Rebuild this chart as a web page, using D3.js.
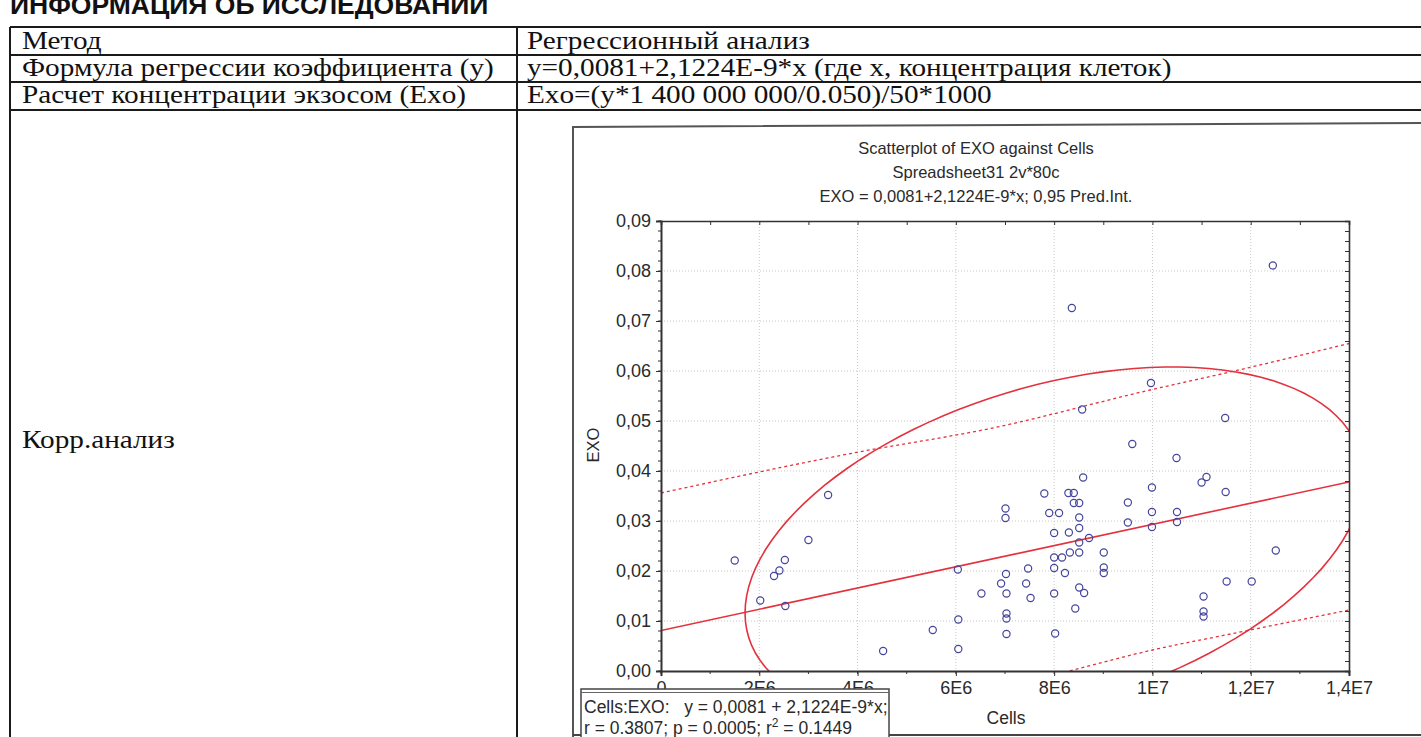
<!DOCTYPE html>
<html>
<head>
<meta charset="utf-8">
<script src="https://cdn.jsdelivr.net/npm/d3@7"></script>
<style>
  body { margin: 0; background: #fff; }
  svg { display: block; }
  text { white-space: pre; }
</style>
</head>
<body>
<div class="forSvg"></div>
<script>
// define w & h of svg
const svg_w = 1421;
const svg_h = 737;

// table texts
const tableTitle = "ИНФОРМАЦИЯ ОБ ИССЛЕДОВАНИИ";
const rowLabels = ["Метод", "Формула регрессии коэффициента (у)", "Расчет концентрации экзосом (Exo)", "Корр.анализ"];
const rowValues = ["Регрессионный анализ", "y=0,0081+2,1224E-9*x (где x, концентрация клеток)", "Exo=(y*1 400 000 000/0.050)/50*1000", ""];

// chart texts
const chartTitles = ["Scatterplot of EXO against Cells", "Spreadsheet31 2v*80c", "EXO = 0,0081+2,1224E-9*x; 0,95 Pred.Int."];
const statLine1 = "Cells:EXO:   y = 0,0081 + 2,1224E-9*x;";
const statLine2 = ["r = 0.3807; p = 0.0005; r", "2", " = 0.1449"];

// tick values and labels
const xTicks = [0, 2e6, 4e6, 6e6, 8e6, 1e7, 1.2e7, 1.4e7];
const xTickLabels = ["0", "2E6", "4E6", "6E6", "8E6", "1E7", "1,2E7", "1,4E7"];
const yTicks = [0, 0.01, 0.02, 0.03, 0.04, 0.05, 0.06, 0.07, 0.08, 0.09];
const yTickLabels = ["0,00", "0,01", "0,02", "0,03", "0,04", "0,05", "0,06", "0,07", "0,08", "0,09"];

// scatter points (Cells, EXO)
const cells = [1.50e6, 3.40e6, 3.00e6, 2.52e6, 2.41e6, 2.30e6, 2.02e6, 2.53e6, 4.52e6, 5.53e6,
  6.04e6, 6.05e6, 6.05e6, 6.52e6,
  8.59e6, 7.80e6, 8.29e6, 8.40e6, 8.40e6, 8.51e6, 7.01e6, 7.01e6, 7.90e6, 8.10e6,
  9.50e6, 9.99e6, 9.99e6, 9.50e6, 9.99e6, 8.51e6, 8.00e6, 8.30e6, 8.51e6, 8.71e6,
  8.51e6, 8.32e6, 8.51e6, 9.01e6, 8.00e6, 8.16e6, 7.47e6, 8.00e6, 9.01e6, 9.01e6,
  7.02e6, 8.22e6, 6.92e6, 7.43e6, 7.03e6, 7.52e6, 8.00e6, 8.51e6, 8.61e6, 8.43e6,
  7.03e6, 7.03e6, 7.03e6, 8.02e6,
  9.59e6, 10.49e6, 11.00e6, 11.10e6, 11.49e6, 10.50e6, 10.50e6, 12.51e6, 11.51e6, 12.02e6,
  11.04e6, 11.04e6, 11.04e6,
  12.45e6, 8.36e6, 9.97e6, 8.57e6, 11.48e6];
const exo = [0.0221, 0.0352, 0.0262, 0.0222, 0.0201, 0.0190, 0.0141, 0.0130, 0.0040, 0.0082,
  0.0203, 0.0103, 0.0044, 0.0155,
  0.0387, 0.0355, 0.0356, 0.0356, 0.0336, 0.0336, 0.0325, 0.0306, 0.0316, 0.0316,
  0.0337, 0.0367, 0.0318, 0.0297, 0.0288, 0.0307, 0.0276, 0.0277, 0.0286, 0.0266,
  0.0257, 0.0237, 0.0237, 0.0237, 0.0227, 0.0227, 0.0205, 0.0206, 0.0207, 0.0196,
  0.0194, 0.0196, 0.0175, 0.0175, 0.0155, 0.0146, 0.0155, 0.0167, 0.0156, 0.0125,
  0.0115, 0.0105, 0.0074, 0.0075,
  0.0454, 0.0426, 0.0377, 0.0388, 0.0358, 0.0318, 0.0298, 0.0241, 0.0179, 0.0179,
  0.0149, 0.0119, 0.0109,
  0.0811, 0.0726, 0.0576, 0.0523, 0.0506];

// regression line (from the chart title)
const regIntercept = 0.0081;
const regSlope = 2.1224e-9;

// prediction interval lines
const piUpperX = [0, 4.02e6, 6.7e6, 9.95e6, 11.58e6, 14e6];
const piUpperY = [0.0356, 0.0438, 0.0485, 0.0562, 0.0598, 0.0655];
const piLowerX = [8.2e6, 10e6, 11.64e6, 14e6];
const piLowerY = [-0.0003, 0.0042, 0.0075, 0.0122];

// confidence ellipse: centre and two conjugate half-diameters (data units)
const ellCenter = [8.0e6, 0.0252];
const ellU = [-6.29e6, -0.0136];
const ellV = [0, 0.0329];

// plot area
const plotL = 661, plotR = 1349, plotT = 221, plotB = 671;
const red = "#e3323e";
const txt = "#2a2a2a";
const sans = "'Liberation Sans', Arial, sans-serif";
const serif = "'Liberation Serif', 'Times New Roman', serif";

const svg = d3.select(".forSvg")
  .append("svg")
  .attr("width", svg_w)
  .attr("height", svg_h)
  .style("font-family", sans);

// ---------- table ----------
svg.append("text")
  .attr("x", 10).attr("y", 14)
  .attr("font-weight", "bold")
  .attr("font-size", 26.5)
  .attr("fill", "#111")
  .text(tableTitle);

const rowTops = [27, 55, 82, 110];
const colX = [10, 517];
const tbl = svg.append("g").attr("stroke", "#1a1a1a").attr("stroke-width", 2);
rowTops.forEach(y => tbl.append("line").attr("x1", colX[0]).attr("x2", svg_w).attr("y1", y).attr("y2", y));
colX.forEach(x => tbl.append("line").attr("x1", x).attr("x2", x).attr("y1", 27).attr("y2", svg_h));

// scanned text is a bit wide, so stretch it sideways
const rowTextY = [48.5, 75.5, 103, 448];
const cellText = (x, y, t) => svg.append("text")
  .attr("transform", `translate(${x},${y}) scale(1.17,1)`)
  .attr("font-family", serif).attr("font-size", 25).attr("fill", "#111").text(t);
rowLabels.forEach((t, i) => cellText(22, rowTextY[i], t));
rowValues.forEach((t, i) => { if (t) cellText(527, rowTextY[i], t); });

// chart frame
svg.append("path")
  .attr("d", `M573,${svg_h} L573,127 L${svg_w},123`)
  .attr("fill", "none").attr("stroke", "#555").attr("stroke-width", 2);
svg.append("line").attr("x1", 573).attr("x2", svg_w).attr("y1", 735).attr("y2", 735)
  .attr("stroke", "#444").attr("stroke-width", 2);

// ---------- chart ----------
const xScale = d3.scaleLinear().domain([0, 1.4e7]).range([plotL, plotR]);
const yScale = d3.scaleLinear().domain([0, 0.09]).range([plotB, plotT]);

// titles
chartTitles.forEach((t, i) => {
  svg.append("text").attr("x", 976).attr("y", 154 + i * 24)
    .attr("text-anchor", "middle").attr("font-size", 16.5).attr("fill", txt).text(t);
});

// grid
const grid = svg.append("g").attr("stroke", "#c8c8c8").attr("stroke-width", 1).attr("stroke-dasharray", "1,2");
grid.selectAll(".gx").data(xTicks.slice(1, -1)).enter().append("line")
  .attr("x1", d => xScale(d)).attr("x2", d => xScale(d)).attr("y1", plotT).attr("y2", plotB);
grid.selectAll(".gy").data(yTicks.slice(1, -1)).enter().append("line")
  .attr("y1", d => yScale(d)).attr("y2", d => yScale(d)).attr("x1", plotL).attr("x2", plotR);

// clip
svg.append("clipPath").attr("id", "plotClip").append("rect")
  .attr("x", plotL).attr("y", plotT).attr("width", plotR - plotL).attr("height", plotB - plotT);
const plot = svg.append("g").attr("clip-path", "url(#plotClip)");

// ellipse outline
const ellPts = d3.range(0, 361, 3).map(a => {
  const t = a * Math.PI / 180;
  return [ellCenter[0] + ellU[0] * Math.cos(t) + ellV[0] * Math.sin(t),
          ellCenter[1] + ellU[1] * Math.cos(t) + ellV[1] * Math.sin(t)];
});
plot.append("path")
  .attr("d", d3.line().x(d => xScale(d[0])).y(d => yScale(d[1])).curve(d3.curveLinearClosed)(ellPts))
  .attr("fill", "none").attr("stroke", red).attr("stroke-width", 1.6);

// regression line
plot.append("line")
  .attr("x1", xScale(0)).attr("y1", yScale(regIntercept))
  .attr("x2", xScale(1.4e7)).attr("y2", yScale(regIntercept + regSlope * 1.4e7))
  .attr("stroke", red).attr("stroke-width", 1.6);

// prediction interval
const piLine = d3.line().x(d => xScale(d[0])).y(d => yScale(d[1])).curve(d3.curveMonotoneX);
plot.append("path").attr("d", piLine(piUpperX.map((x, i) => [x, piUpperY[i]])))
  .attr("fill", "none").attr("stroke", red).attr("stroke-width", 1.3).attr("stroke-dasharray", "3,3");
plot.append("path").attr("d", piLine(piLowerX.map((x, i) => [x, piLowerY[i]])))
  .attr("fill", "none").attr("stroke", red).attr("stroke-width", 1.3).attr("stroke-dasharray", "3,3");

// points
plot.selectAll("circle").data(cells).enter().append("circle")
  .attr("cx", d => xScale(d)).attr("cy", (d, i) => yScale(exo[i]))
  .attr("r", 3.6).attr("fill", "none").attr("stroke", "#45459c").attr("stroke-width", 1.2);

// axes
const minorX = d3.range(0, 1.4e7 + 1, 1e6);
const minorY = d3.range(0, 0.0901, 0.002);
const yAxis = d3.axisLeft(yScale).tickValues(yTicks).tickFormat((d, i) => yTickLabels[i]).tickSize(5).tickPadding(5);
const xAxis = d3.axisBottom(xScale).tickValues(xTicks).tickFormat((d, i) => xTickLabels[i]).tickSize(5).tickPadding(5);

const gy = svg.append("g").attr("transform", `translate(${plotL},0)`).call(yAxis);
const gx = svg.append("g").attr("transform", `translate(0,${plotB})`).call(xAxis);
[gx, gy].forEach(g => {
  g.select(".domain").attr("stroke", "#333").attr("stroke-width", 2);
  g.selectAll(".tick line").attr("stroke", "#333");
  g.selectAll("text").attr("font-size", 18).attr("fill", txt).attr("font-family", sans);
});
// minor ticks
svg.append("g").selectAll("line").data(minorY).enter().append("line")
  .attr("x1", plotL - 3).attr("x2", plotL).attr("y1", d => yScale(d)).attr("y2", d => yScale(d)).attr("stroke", "#333");
svg.append("g").selectAll("line").data(minorX).enter().append("line")
  .attr("y1", plotB).attr("y2", plotB + 3).attr("x1", d => xScale(d)).attr("x2", d => xScale(d)).attr("stroke", "#333");
// top & right axes with inward ticks
const topAx = svg.append("g").attr("transform", `translate(0,${plotT})`)
  .call(d3.axisTop(xScale).tickValues(minorX).tickSize(-4).tickFormat(""));
const rightAx = svg.append("g").attr("transform", `translate(${plotR},0)`)
  .call(d3.axisRight(yScale).tickValues(minorY).tickSize(-4).tickFormat(""));
[topAx, rightAx].forEach(g => {
  g.select(".domain").attr("stroke", "#333").attr("stroke-width", 1.6);
  g.selectAll(".tick line").attr("stroke", "#333");
});

// axis titles
svg.append("text").attr("transform", "translate(599,445) rotate(-90)")
  .attr("text-anchor", "middle").attr("font-size", 16.5).attr("fill", txt).text("EXO");
svg.append("text").attr("x", 1006).attr("y", 724)
  .attr("text-anchor", "middle").attr("font-size", 17.5).attr("fill", txt).text("Cells");

// stats box over the x labels
const box = svg.append("g");
box.append("rect").attr("x", 581).attr("y", 689).attr("width", 308).attr("height", 60)
  .attr("fill", "#fff").attr("stroke", "#444").attr("stroke-width", 1.5);
box.append("line").attr("x1", 581).attr("x2", 889).attr("y1", 692.5).attr("y2", 692.5)
  .attr("stroke", "#666").attr("stroke-width", 1);
box.append("text").attr("x", 584).attr("y", 713)
  .attr("font-size", 17.5).attr("fill", txt).text(statLine1);
const s2 = box.append("text").attr("x", 584).attr("y", 734)
  .attr("font-size", 17.5).attr("fill", txt);
s2.append("tspan").text(statLine2[0]);
s2.append("tspan").attr("dy", -7).attr("font-size", 12).text(statLine2[1]);
s2.append("tspan").attr("dy", 7).text(statLine2[2]);
</script>
</body>
</html>
